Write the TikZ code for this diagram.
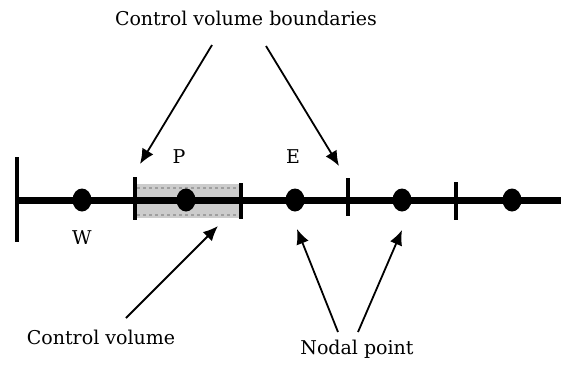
\documentclass[tikz,border=0pt]{standalone}
\usepackage{fontspec}
\setmainfont{DejaVu Serif}
\usetikzlibrary{arrows.meta,shapes.geometric}
\begin{document}
\begin{tikzpicture}[x=1pt,y=-1pt,
  lbl/.style={font=\fontsize{19}{22}\selectfont, inner sep=0pt},
  dot/.style={ellipse, fill=black, minimum width=19pt, minimum height=23pt, inner sep=0pt},
  tick/.style={line width=4pt},
  arr/.style={line width=1.8pt, -{Latex[length=15pt,width=13pt]}}]
\useasboundingbox (0,0) rectangle (561,365);
% grey control volume
\fill[gray!40] (135,184) rectangle (241,218);
\draw[gray!75, dashed, line width=1.2pt] (137,188) -- (239,188);
\draw[gray!75, dashed, line width=1.2pt] (137,215) -- (239,215);
% main line
\coordinate (Lstart) at (15,200);
\coordinate (Lend) at (561,200);
\draw[line width=7pt] (Lstart) -- (Lend);
% ticks
\coordinate (t0a) at (17,157); \coordinate (t0b) at (17,242);
\coordinate (t1a) at (135,177); \coordinate (t1b) at (135,220);
\coordinate (t2a) at (241,183); \coordinate (t2b) at (241,219);
\coordinate (t3a) at (348,178); \coordinate (t3b) at (348,216);
\coordinate (t4a) at (456,182); \coordinate (t4b) at (456,220);
\draw[tick] (t0a) -- (t0b);
\draw[tick] (t1a) -- (t1b);
\draw[tick] (t2a) -- (t2b);
\draw[tick] (t3a) -- (t3b);
\draw[tick] (t4a) -- (t4b);
% nodal points
\node[dot] (W) at (82,200) {};
\node[dot] (P) at (186,200) {};
\node[dot] (E) at (295,200) {};
\node[dot] (N4) at (402,200) {};
\node[dot] (N5) at (512,200) {};
% letters
\node[lbl] (lW) at (82,238) {W};
\node[lbl] (lP) at (179,157) {P};
\node[lbl] (lE) at (293,157) {E};
% labels
\node[lbl] (cvb) at (246,18) {Control volume boundaries};
\node[lbl] (cv) at (101,337) {Control volume};
\node[lbl] (np) at (357,349) {Nodal point};
% arrow ends
\coordinate (b1s) at (212,45); \coordinate (b1e) at (140,164);
\coordinate (b2s) at (266,46); \coordinate (b2e) at (339,166);
\coordinate (cvs) at (126,318); \coordinate (cve) at (218,226);
\coordinate (n1s) at (338,332); \coordinate (n1e) at (297,229);
\coordinate (n2s) at (358,332); \coordinate (n2e) at (402,230);
\draw[arr] (b1s) -- (b1e);
\draw[arr] (b2s) -- (b2e);
\draw[arr] (cvs) -- (cve);
\draw[arr] (n1s) -- (n1e);
\draw[arr] (n2s) -- (n2e);
\end{tikzpicture}
\end{document}
